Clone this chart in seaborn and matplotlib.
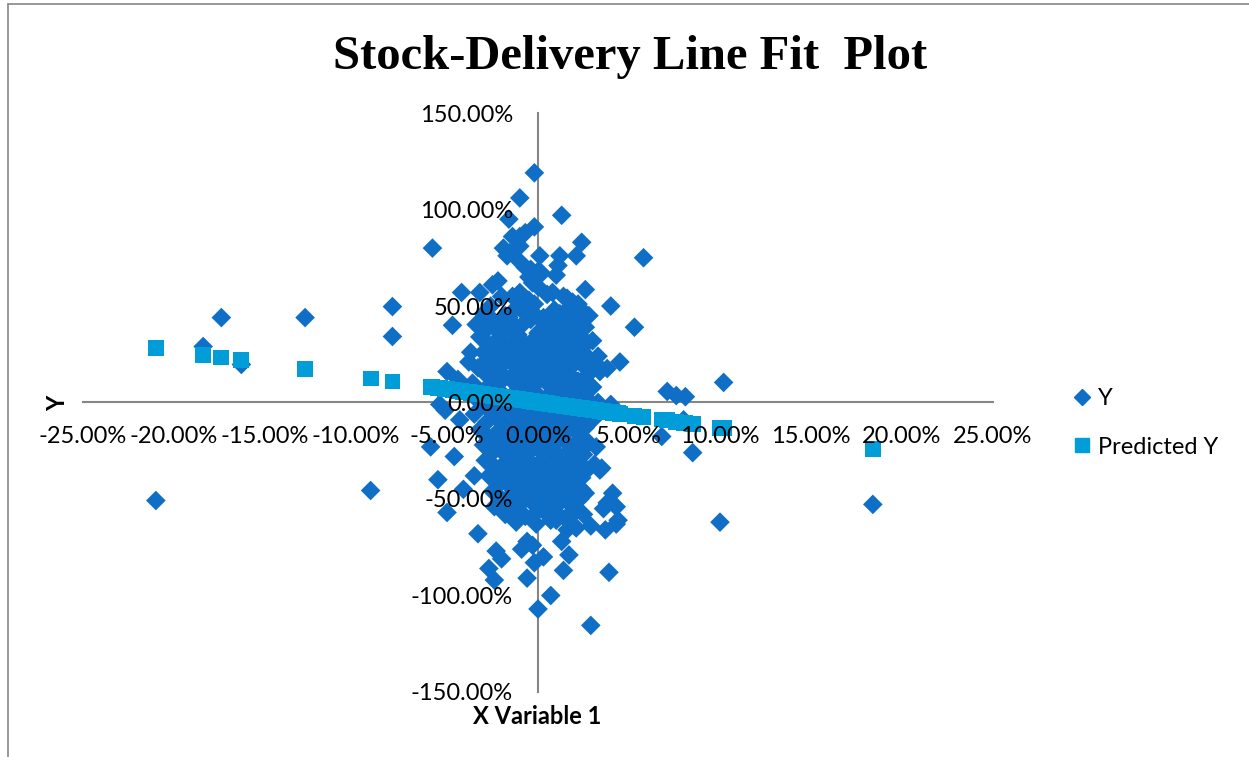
import pandas as pd
import seaborn as sns
import matplotlib.pyplot as plt
from matplotlib.lines import Line2D
from matplotlib.ticker import FuncFormatter, MultipleLocator

#######################################################################
# Data (values in percent)
#######################################################################

# sparse / outlying points
x_outer = [-21.0, -18.4, -17.4, -16.3, -12.8, -9.2, -8.0, -8.0, -5.8, 10.2,
           10.0, 18.4, 5.8, 5.3, 8.5, 7.1, 7.6, 8.1, 8.0, 6.8,
           -0.2, -1.0, 1.3, -1.6, -0.2, -0.7, -1.0, -1.4, 2.4, -1.9,
           -1.5, -1.7, -1.0, 0.1, 1.2, 2.1, 1.1, -1.0, -0.7, -0.4,
           0.0, 0.2, 1.0, -0.5, -0.3, 0.0, -2.2, -2.5, -4.2, -3.2,
           2.6, 4.0, -1.0, -1.4, -0.7, 0.8, 1.4, 1.9,
           -4.7, -3.4, -3.7, -3.8, -2.8, -5.0, -4.4, 4.5, 3.8, 2.9,
           3.2, 4.0, -5.4, -5.1, -4.3, -5.9, -4.6, -5.5, -3.5, -4.1,
           -5.0, 3.2, 3.5, 3.1, 3.4, 4.1, 3.8, 4.3, 3.6, 4.4, -2.5,
           -3.3, -2.3, -2.0, -2.7, -2.4, -0.6, -0.2, 0.3, 1.3, 1.7,
           1.4, 3.9, 0.7, 0.0, 2.9, -0.9, -0.6, -0.3, 3.7, 4.3,
           1.6, 2.1, 2.9]
y_outer = [-50.8, 29.0, 44.0, 19.7, 44.0, -45.6, 49.7, 34.2, 80.0, 10.4,
           -62.0, -52.8, 75.0, 39.0, -26.0, 5.7, 3.6, 3.0, -9.0, -17.6,
           119.0, 106.0, 97.0, 95.0, 91.0, 88.0, 86.0, 86.0, 83.0, 80.0,
           78.0, 76.0, 81.0, 76.0, 76.0, 76.0, 71.0, 73.0, 70.0, 69.0,
           68.0, 67.0, 66.0, 65.0, 62.0, 60.0, 63.0, 61.0, 57.0, 57.0,
           58.5, 50.0, 57.0, 55.0, 54.0, 57.0, 55.0, 52.0,
           40.0, 40.4, 26.0, 21.0, 22.0, 16.0, 12.0, 21.0, 17.6, 22.0,
           20.0, -1.0, -1.0, -4.0, -9.0, -23.0, -28.0, -40.0, -38.0, -45.0,
           -57.0, -23.0, -34.0, -32.0, -35.0, -47.0, -52.0, -54.0, -55.0, -61.0, -18.0,
           -68.0, -77.0, -81.0, -86.0, -92.0, -91.0, -83.0, -80.0, -72.0, -79.0,
           -87.0, -88.0, -100.0, -107.0, -115.5, -76.0, -72.0, -74.0, -66.0, -63.0,
           -66.0, -65.0, -64.0]

# dense central cluster
x_core = [-2.0, -0.5, 0.5, 1.6, 2.2,
          -2.6, -1.2, -0.2, 0.9, 1.8, 2.5,
          -3.0, -1.8, -0.8, 0.3, 1.2, 2.0, 2.8,
          -2.4, -1.4, -0.4, 0.6, 1.5, 2.3,
          -2.8, -1.9, -1.0, 0.0, 0.9, 1.7, 2.6,
          -3.2, -2.2, -1.3, -0.3, 0.5, 1.3, 2.1, 3.0,
          -2.7, -1.7, -0.8, 0.2, 1.0, 1.9, 2.7,
          -3.0, -2.1, -1.1, -0.2, 0.7, 1.5, 2.4, 3.3,
          -2.5, -1.5, -0.6, 0.4, 1.2, 2.1,
          -3.3, -2.3, -1.2, -0.3, 0.6, 1.4, 2.5, 3.4,
          -2.8, -1.8, -0.8, 0.1, 1.0, 1.9, 2.8,
          -3.6, -2.4, -1.4, -0.5, 0.5, 1.3, 2.2, 3.0,
          -3.0, -2.0, -1.0, 0.0, 0.9, 1.8, 2.6,
          -3.4, -2.5, -1.5, -0.5, 0.4, 1.4, 2.3, 3.3,
          -2.9, -1.9, -0.9, 0.1, 1.0, 2.0, 2.9,
          -3.5, -2.4, -1.4, -0.4, 0.6, 1.5, 2.5,
          -2.8, -1.8, -0.8, 0.2, 1.1, 2.1, 3.0,
          -3.2, -2.2, -1.2, -0.2, 0.7, 1.6, 2.6,
          -2.7, -1.6, -0.6, 0.4, 1.3, 2.3,
          -3.0, -2.0, -1.0, 0.0, 0.9, 1.9, 2.8,
          -2.5, -1.4, -0.4, 0.6, 1.6, 2.5,
          -2.9, -1.8, -0.8, 0.2, 1.2, 2.2,
          -2.3, -1.2, -0.2, 0.8, 1.8, 2.7,
          -2.7, -1.6, -0.6, 0.4, 1.4, 2.4,
          -2.1, -1.0, 0.0, 1.0, 2.0,
          -2.5, -1.4, -0.4, 0.6, 1.6, 2.6,
          -2.0, -0.9, 0.2, 1.2, 2.3,
          -2.4, -1.3, -0.2, 0.9, 1.9,
          -1.8, -0.7, 0.4, 1.5, 2.5,
          -1.2, -0.1, 1.0, 2.0]
y_core = [55, 53, 56, 54, 51,
          50, 49, 51, 48, 50, 47,
          46, 45, 47, 44, 46, 43, 45,
          42, 41, 43, 40, 42, 41,
          38, 37, 39, 36, 38, 37, 39,
          34, 33, 35, 32, 34, 33, 35, 32,
          30, 29, 31, 28, 30, 29, 31,
          26, 25, 27, 24, 26, 25, 27, 24,
          22, 21, 23, 20, 22, 21,
          18, 17, 19, 16, 18, 17, 19, 16,
          14, 13, 15, 12, 14, 13, 15,
          10, 9, 11, 8, 10, 9, 11, 8,
          6, 5, 7, 4, 6, 5, 7,
          2, 1, 3, 0, 2, 1, 3, 0,
          -2, -3, -1, -4, -2, -3, -1,
          -6, -7, -5, -8, -6, -7, -5,
          -10, -11, -9, -12, -10, -11, -9,
          -14, -15, -13, -16, -14, -15, -13,
          -18, -19, -17, -20, -18, -19,
          -22, -23, -21, -24, -22, -23, -21,
          -26, -27, -25, -28, -26, -27,
          -30, -31, -29, -32, -30, -31,
          -34, -35, -33, -36, -34, -35,
          -38, -39, -37, -40, -38, -39,
          -42, -43, -41, -44, -42,
          -46, -47, -45, -48, -46, -47,
          -50, -51, -49, -52, -50,
          -54, -55, -53, -56, -54,
          -58, -59, -57, -60, -58,
          -62, -63, -61, -64]

# extra points that fill the solid middle of the cluster
x_fill = [-1.6, -0.1, 1.1, 2.0,
          -2.1, -1.1, 0.1, 1.0, 1.9,
          -2.3, -1.4, -0.5, 0.4, 1.4, 2.3,
          -1.9, -0.9, 0.0, 0.9, 1.8,
          -2.5, -1.5, -0.6, 0.3, 1.2, 2.2,
          -2.0, -1.0, -0.1, 0.8, 1.7, 2.6,
          -2.4, -1.4, -0.4, 0.5, 1.4, 2.3,
          -1.9, -0.9, 0.0, 0.9, 1.9,
          -2.2, -1.2, -0.3, 0.7, 1.6, 2.5,
          -1.7, -0.7, 0.3, 1.2, 2.1,
          -2.0, -1.0, 0.0, 1.0, 1.9,
          -1.5, -0.5, 0.5, 1.4, 2.4,
          -1.8, -0.8, 0.2, 1.1, 2.0,
          -1.3, -0.3, 0.7, 1.7]
y_fill = [44, 45, 43, 44,
          36, 35, 37, 36, 35,
          28, 29, 27, 28, 29, 27,
          20, 21, 19, 20, 21,
          12, 13, 11, 12, 13, 11,
          4, 5, 3, 4, 5, 3,
          -4, -3, -5, -4, -3, -5,
          -12, -13, -11, -12, -13,
          -20, -21, -19, -20, -21, -19,
          -28, -27, -29, -28, -27,
          -36, -37, -35, -36, -37,
          -44, -45, -43, -44, -45,
          -52, -51, -53, -52, -51,
          -60, -59, -61, -60]

# fitted line
fit_intercept = 0.2
fit_slope = -1.33

#######################################################################
# Build the table
#######################################################################

df = pd.DataFrame({"X": x_outer + x_core + x_fill,
                   "Y": y_outer + y_core + y_fill})
df["Predicted Y"] = fit_intercept + fit_slope * df["X"]

#######################################################################
# Plot
#######################################################################

sns.set_style("white")
plt.rcParams["font.family"] = ["Lato", "DejaVu Sans"]
plt.rcParams["text.color"] = "black"

grey = "#868686"
dark_blue = "#0F6FC6"
light_blue = "#009DD9"

fig = plt.figure(figsize=(12.49, 7.57), dpi=100)
ax = fig.add_axes([0.0665, 0.0859, 0.7285, 0.7648])

sns.scatterplot(data=df, x="X", y="Y", marker="D", s=100, color=dark_blue,
                edgecolor="none", ax=ax, zorder=3)
sns.scatterplot(data=df, x="X", y="Predicted Y", marker="s", s=130,
                color=light_blue, edgecolor="none", ax=ax, zorder=4)

ax.set_xlim(-25, 25)
ax.set_ylim(-150, 150)
ax.xaxis.set_major_locator(MultipleLocator(5))
ax.yaxis.set_major_locator(MultipleLocator(50))
pct = FuncFormatter(lambda v, pos: f"{v:.2f}%")
ax.xaxis.set_major_formatter(pct)
ax.yaxis.set_major_formatter(pct)

# axes cross at zero, like Excel
ax.spines["left"].set_position(("data", 0))
ax.spines["bottom"].set_position(("data", 0))
ax.spines["right"].set_visible(False)
ax.spines["top"].set_visible(False)
for side in ["left", "bottom"]:
    ax.spines[side].set_color(grey)
    ax.spines[side].set_linewidth(1.5)
    ax.spines[side].set_zorder(1)

ax.tick_params(axis="x", direction="out", length=7, width=1.5, color=grey,
               labelsize=17, pad=10, labelcolor="black")
ax.tick_params(axis="y", direction="out", length=7, width=1.5, color=grey,
               labelsize=17, pad=11, labelcolor="black")
# tick labels sit on top of the markers
ax.xaxis.set_zorder(5)
ax.yaxis.set_zorder(5)

ax.set_xlabel("")
ax.set_ylabel("")
fig.text(537 / 1249, 1 - 716 / 757, "X Variable 1", ha="center", va="center",
         fontsize=17, fontweight="bold", color="black")
fig.text(58 / 1249, 1 - 403 / 757, "Y", ha="center", va="center",
         fontsize=17, fontweight="bold", rotation=90, color="black")

fig.text(630 / 1249, 1 - 57 / 757, "Stock-Delivery Line Fit  Plot",
         ha="center", va="center", fontsize=35, fontweight="bold",
         family="Liberation Serif", color="black")

handles = [
    Line2D([], [], marker="D", linestyle="none", color=dark_blue, markersize=8),
    Line2D([], [], marker="s", linestyle="none", color=light_blue, markersize=10),
]
fig.legend(handles, ["Y", "Predicted Y"], loc="center left",
           bbox_to_anchor=(1070 / 1249, 1 - 423 / 757), frameon=False,
           fontsize=17, handletextpad=0.2, labelspacing=1.15,
           handlelength=1.0, borderaxespad=0, borderpad=0)

# chart area border (only the top and left edges show in the crop)
fig.add_artist(Line2D([8 / 1249, 8 / 1249], [0, 1 - 4 / 757],
                      color=grey, linewidth=1.2))
fig.add_artist(Line2D([8 / 1249, 1], [1 - 4 / 757, 1 - 4 / 757],
                      color=grey, linewidth=1.2))

fig.savefig("out.png", dpi=100)
